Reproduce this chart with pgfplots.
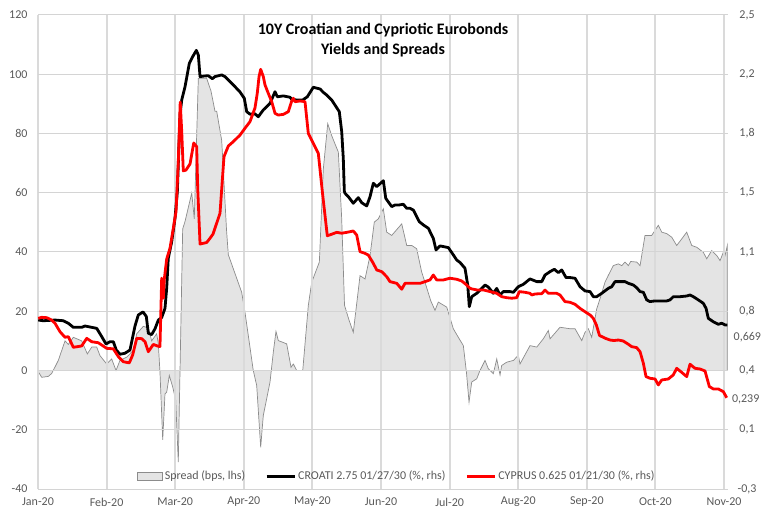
\documentclass[border=0pt]{standalone}
\usepackage{fontspec}
\setmainfont{Carlito}
\usepackage{pgfplots}
\pgfplotsset{compat=1.18}
\definecolor{gridc}{HTML}{D4D4D4}
\definecolor{gridx}{HTML}{DADADA}
\definecolor{areaf}{HTML}{E4E4E4}
\definecolor{areal}{HTML}{8C8C8C}
\definecolor{labc}{HTML}{595959}
\definecolor{cyred}{HTML}{FF0000}
\pgfplotsset{
  lineleg/.style={legend image code/.code={\draw[##1] (0pt,0pt) -- (28pt,0pt);}},
  boxleg/.style={legend image code/.code={\draw[##1] (0pt,-4pt) rectangle (25pt,4pt);}},
}

% Spread (bps, lhs); x in months since Jan-20 (tick spacing)
\pgfplotstableread{
x y
0.000 0
0.004 -0.5
0.020 -1.0
0.054 -2.3
0.150 -2.0
0.200 -1.0
0.296 3.4
0.394 10.0
0.442 8.8
0.515 11.2
0.637 10.0
0.719 5.6
0.783 7.9
0.856 7.9
0.904 5.0
1.001 2.2
1.074 3.9
1.137 0.0
1.195 3.4
1.293 4.5
1.389 6.8
1.439 12.4
1.535 14.9
1.608 14.4
1.657 10.0
1.730 12.4
1.754 9.0
1.778 -0.6
1.818 -23.4
1.851 -7.9
1.876 -7.3
1.914 -1.7
1.964 -5.6
2.007 -10.0
2.045 -30.9
2.109 47.8
2.143 50.3
2.241 59.9
2.278 51.2
2.337 98.6
2.459 98.6
2.522 94.3
2.580 87.5
2.605 87.5
2.678 77.6
2.748 47.5
2.774 39.1
2.969 26.4
3.017 19.7
3.138 0.0
3.188 -5.1
3.246 -25.9
3.284 -15.2
3.382 -3.9
3.430 6.2
3.469 13.2
3.503 10.1
3.625 9.0
3.688 1.1
3.722 2.2
3.771 0.0
3.859 0.0
3.940 21.9
3.990 29.8
4.101 36.6
4.159 68.0
4.223 83.3
4.281 79.3
4.378 73.7
4.427 51.2
4.468 22.0
4.534 17.0
4.596 12.9
4.694 32.0
4.767 30.9
4.840 38.8
4.902 50.1
4.961 51.2
5.034 54.6
5.083 46.7
5.156 45.6
5.302 49.5
5.375 42.2
5.448 42.2
5.520 41.1
5.593 33.2
5.641 29.8
5.724 23.6
5.787 20.3
5.835 23.1
5.958 21.4
6.054 14.1
6.127 11.2
6.200 8.4
6.246 -0.8
6.283 -10.7
6.322 -3.9
6.395 -2.8
6.443 0.0
6.516 3.4
6.564 0.6
6.637 -1.1
6.687 3.9
6.735 -1.5
6.759 1.7
6.832 2.8
6.929 3.4
7.001 5.1
7.026 2.2
7.172 8.4
7.270 7.9
7.366 10.7
7.439 13.5
7.464 10.7
7.609 14.6
7.755 14.1
7.828 14.1
7.926 10.1
7.974 12.9
8.022 14.1
8.071 11.2
8.144 20.8
8.192 24.2
8.265 29.8
8.313 32.1
8.386 35.4
8.459 36.0
8.509 35.4
8.557 36.6
8.605 35.4
8.640 36.8
8.727 36.6
8.776 35.4
8.848 45.6
8.946 45.6
8.994 47.3
9.042 49.0
9.092 46.7
9.165 46.2
9.238 45.0
9.310 42.2
9.383 44.4
9.456 46.7
9.529 42.2
9.602 41.6
9.698 39.9
9.748 37.7
9.821 40.5
9.894 38.8
9.942 37.1
9.990 39.9
10.015 38.8
10.048 42.2
10.048 0
}\spread

% CROATI 2.75 01/27/30 (%, rhs)
\pgfplotstableread{
x y
0.004 0.698
0.077 0.694
0.248 0.698
0.369 0.694
0.442 0.679
0.515 0.655
0.637 0.655
0.685 0.663
0.783 0.655
0.856 0.649
0.929 0.600
0.991 0.557
1.050 0.570
1.098 0.570
1.141 0.521
1.195 0.496
1.268 0.502
1.341 0.521
1.414 0.663
1.462 0.728
1.531 0.746
1.579 0.719
1.608 0.620
1.657 0.612
1.706 0.647
1.754 0.698
1.803 0.713
1.851 0.767
1.876 0.887
1.899 1.063
1.949 1.161
1.997 1.299
2.031 1.456
2.070 1.909
2.095 1.998
2.143 2.076
2.206 2.215
2.255 2.254
2.308 2.291
2.337 2.264
2.362 2.136
2.434 2.140
2.483 2.141
2.541 2.124
2.580 2.136
2.678 2.146
2.726 2.136
2.774 2.116
2.847 2.087
2.945 2.045
3.007 2.008
3.042 1.929
3.090 1.914
3.163 1.916
3.211 1.899
3.284 1.939
3.382 1.978
3.455 2.047
3.488 2.017
3.576 2.022
3.673 2.014
3.698 2.002
3.771 1.998
3.859 1.998
3.926 2.017
4.013 2.073
4.111 2.063
4.159 2.043
4.209 2.027
4.281 1.998
4.329 1.968
4.392 1.929
4.427 1.811
4.450 1.654
4.465 1.460
4.475 1.447
4.523 1.427
4.596 1.388
4.669 1.421
4.719 1.391
4.792 1.372
4.840 1.427
4.888 1.506
4.937 1.486
5.034 1.521
5.069 1.417
5.156 1.368
5.204 1.378
5.267 1.378
5.325 1.382
5.375 1.358
5.423 1.358
5.471 1.348
5.558 1.279
5.617 1.260
5.690 1.240
5.762 1.181
5.802 1.112
5.860 1.136
5.981 1.126
6.054 1.083
6.103 1.053
6.152 1.038
6.224 1.004
6.264 0.905
6.287 0.777
6.322 0.836
6.395 0.856
6.468 0.885
6.516 0.905
6.564 0.893
6.637 0.856
6.687 0.885
6.735 0.846
6.783 0.866
6.880 0.866
6.929 0.862
7.001 0.895
7.074 0.909
7.172 0.941
7.270 0.925
7.343 0.925
7.391 0.964
7.464 0.984
7.526 0.998
7.585 0.978
7.634 0.994
7.697 0.949
7.755 0.949
7.828 0.945
7.901 0.895
7.974 0.870
8.047 0.866
8.095 0.836
8.144 0.836
8.217 0.856
8.313 0.885
8.363 0.895
8.411 0.925
8.484 0.925
8.557 0.925
8.605 0.915
8.678 0.905
8.727 0.889
8.776 0.866
8.824 0.862
8.873 0.817
8.921 0.807
8.994 0.811
9.067 0.811
9.165 0.811
9.213 0.817
9.261 0.836
9.359 0.836
9.456 0.840
9.504 0.846
9.553 0.836
9.625 0.817
9.698 0.797
9.738 0.767
9.771 0.708
9.844 0.688
9.917 0.673
9.966 0.679
10.015 0.669
10.048 0.669
}\croati

% CYPRUS 0.625 01/21/30 (%, rhs)
\pgfplotstableread{
x y
0.004 0.708
0.054 0.714
0.127 0.712
0.200 0.698
0.248 0.679
0.321 0.629
0.394 0.596
0.442 0.600
0.515 0.537
0.637 0.545
0.710 0.590
0.783 0.570
0.879 0.564
1.001 0.531
1.098 0.528
1.171 0.482
1.243 0.452
1.331 0.445
1.380 0.492
1.439 0.590
1.512 0.588
1.560 0.570
1.608 0.511
1.681 0.554
1.754 0.543
1.778 0.542
1.803 0.945
1.827 0.827
1.841 0.939
1.876 1.059
1.924 1.122
2.012 1.338
2.045 1.633
2.073 1.986
2.095 1.811
2.118 1.579
2.157 1.584
2.216 1.620
2.270 1.744
2.313 1.722
2.328 1.476
2.362 1.147
2.459 1.156
2.507 1.181
2.551 1.206
2.595 1.259
2.653 1.329
2.711 1.663
2.774 1.726
2.847 1.752
2.945 1.791
3.017 1.831
3.090 1.870
3.163 1.951
3.196 2.037
3.222 2.136
3.246 2.179
3.284 2.136
3.309 2.087
3.357 2.037
3.407 1.988
3.455 1.919
3.503 1.909
3.576 1.913
3.649 1.929
3.698 1.992
3.722 2.008
3.746 1.988
3.819 1.992
3.892 1.988
3.940 1.801
4.013 1.742
4.086 1.683
4.150 1.437
4.217 1.196
4.281 1.205
4.354 1.216
4.427 1.211
4.500 1.216
4.596 1.224
4.646 1.200
4.694 1.102
4.767 1.092
4.815 1.082
4.888 1.033
4.937 0.994
5.010 0.984
5.083 0.954
5.131 0.925
5.229 0.915
5.302 0.880
5.350 0.915
5.448 0.915
5.569 0.915
5.641 0.925
5.714 0.935
5.762 0.964
5.812 0.935
5.908 0.935
6.006 0.945
6.103 0.939
6.176 0.929
6.249 0.905
6.297 0.886
6.322 0.882
6.395 0.876
6.491 0.876
6.589 0.866
6.687 0.856
6.759 0.836
6.832 0.830
6.905 0.827
6.978 0.830
7.016 0.866
7.099 0.862
7.172 0.856
7.197 0.846
7.245 0.852
7.343 0.854
7.391 0.875
7.439 0.856
7.561 0.856
7.609 0.846
7.682 0.807
7.755 0.803
7.828 0.791
7.901 0.767
7.974 0.747
8.047 0.728
8.095 0.708
8.139 0.669
8.185 0.607
8.265 0.591
8.338 0.580
8.397 0.577
8.459 0.580
8.532 0.574
8.605 0.555
8.654 0.541
8.727 0.535
8.776 0.511
8.824 0.443
8.863 0.364
8.921 0.354
8.994 0.350
9.042 0.315
9.092 0.344
9.188 0.350
9.261 0.374
9.310 0.413
9.383 0.389
9.456 0.364
9.504 0.437
9.577 0.413
9.650 0.409
9.723 0.397
9.786 0.305
9.844 0.291
9.917 0.291
9.990 0.275
10.039 0.239
}\cyprus

\begin{document}
\begin{tikzpicture}
\useasboundingbox (0pt,0pt) rectangle (767pt,514pt);
\pgfplotsset{
  common/.style={
    at={(38pt,25pt)}, anchor=south west,
    width=690pt, height=474pt, scale only axis,
    xmin=0, xmax=10.058,
    axis line style={draw=none},
    major tick length=0pt,
    tick label style={font=\fontsize{12}{14}\selectfont, text=labc},
  }
}
% left axis: spread area
\begin{axis}[common,
  ymin=-40, ymax=120,
  ytick={-40,-20,0,20,40,60,80,100,120},
  yticklabels={-40,-20,0,20,40,60,80,100,120},
  yticklabel style={xshift=-7pt},
  xtick=\empty,
]
\addplot[draw=areal, line width=0.7pt, fill=areaf] table {\spread} \closedcycle;
\end{axis}
% right axis: yields
\begin{axis}[common,
  ymin=-0.3, ymax=2.5,
  ytick={-0.3,0.05,0.4,0.75,1.1,1.45,1.8,2.15,2.5},
  yticklabels={{-0,3},{0,1},{0,4},{0,8},{1,1},{1,5},{1,8},{2,2},{2,5}},
  yticklabel pos=right,
  yticklabel style={anchor=center, xshift=19pt},
  xtick={0,1,2,3,4,5,6,7,8,9,10},
  xticklabels={Jan-20,Feb-20,Mar-20,Apr-20,May-20,Jun-20,Jul-20,Aug-20,Sep-20,Oct-20,Nov-20},
  x tick label style={anchor=center, yshift=-13pt},
  xmajorgrids=true, ymajorgrids=true,
  major grid style={draw=gridc, line width=1pt},
  major x grid style={draw=gridx, line width=2pt},
  clip=false,
  title={10Y Croatian and Cypriotic Eurobonds\\Yields and Spreads},
  title style={at={(0.5,1)}, anchor=north, yshift=-11pt, align=center,
    font=\bfseries\fontsize{16}{20}\selectfont},
  legend columns=-1,
  legend style={at={(0.52,0.027)}, anchor=center, draw=none, fill=none,
    font=\fontsize{12}{14}\selectfont, text=labc,
    /tikz/every even column/.append style={column sep=18pt}},
  legend cell align=left,
]
\addlegendimage{draw=areal, fill=areaf, line width=0.7pt, boxleg}
\addlegendentry{Spread (bps, lhs)}
\addplot[black, line width=2.8pt, line join=round, lineleg] table {\croati};
\addlegendentry{CROATI 2.75 01/27/30 (\%, rhs)}
\addplot[cyred, line width=2.8pt, line join=round, lineleg] table {\cyprus};
\addlegendentry{CYPRUS 0.625 01/21/30 (\%, rhs)}
\node[font=\fontsize{12}{14}\selectfont, text=labc] at (axis cs:10.048,0.669) [xshift=20pt, yshift=-12pt] {0,669};
\node[font=\fontsize{12}{14}\selectfont, text=labc] at (axis cs:10.039,0.239) [xshift=19pt, yshift=-2pt] {0,239};
\end{axis}
\end{tikzpicture}
\end{document}
